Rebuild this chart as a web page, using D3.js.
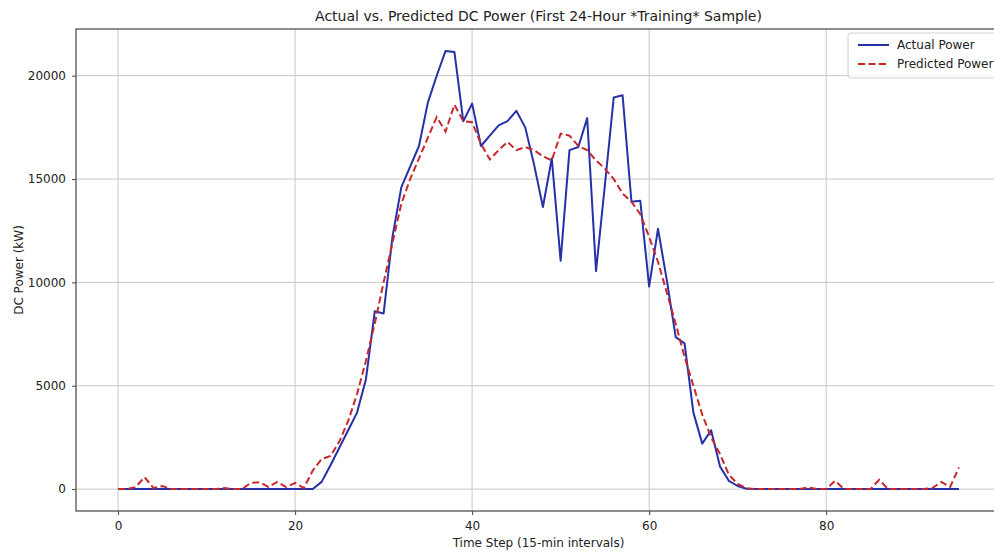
<!DOCTYPE html>
<html>
<head>
<meta charset="utf-8">
<script src="https://cdn.jsdelivr.net/npm/d3@7"></script>
<style>
  body { margin: 0; background: #fff; }
  text { font-family: "DejaVu Sans", sans-serif; fill: #222; }
</style>
</head>
<body>
<div id="chart-area"></div>
<script>
// data (96 fifteen-minute steps)
var actualPower = [
    0, 0, 0, 0, 0, 0, 0, 0, 0, 0, 0, 0, 0, 0, 0, 0, 0, 0, 0, 0, 0, 0, 0,
    350, 1150, 2000, 2850, 3700, 5300, 8600, 8500, 12200, 14600, 15600, 16600,
    18700, 20000, 21200, 21150, 17800, 18650, 16600, 17100, 17600, 17800, 18300,
    17500, 15700, 13650, 16000, 11050, 16400, 16550, 17950, 10550, 14700, 18950,
    19050, 13900, 13950, 9800, 12600, 10100, 7350, 7050, 3700, 2200, 2850, 1100,
    400, 150, 20,
    0, 0, 0, 0, 0, 0, 0, 0, 0, 0, 0, 0, 0, 0, 0, 0, 0, 0, 0, 0, 0, 0, 0, 0
];
var predictedPower = [
    0, 0, 100, 580, 50, 150, 0, 0, 0, 0, 0, 0, 50, 0, 0, 300, 330, 100, 350, 100,
    300, 50, 900, 1450, 1600, 2300, 3300, 4600, 6200, 8000, 10000, 11900, 13800,
    15000, 16000, 17000, 18000, 17300, 18600, 17800, 17750, 16700, 15950, 16400,
    16800, 16400, 16550, 16400, 16100, 15900, 17200, 17100, 16600, 16400, 15900,
    15500, 15000, 14300, 13900, 13300, 12200, 11000, 9500, 8000, 6400, 5000, 3600,
    2500, 1700, 700, 250, 50, 0, 0, 0, 0, 0, 0, 80, 0, 0, 400, 0, 0, 0, 0, 450,
    0, 0, 0, 0, 0, 50, 350, 100, 1050
];
var steps = actualPower.map((d, i) => i);
var xTicks = [0, 20, 40, 60, 80];
var yTicks = [0, 5000, 10000, 15000, 20000];
var seriesNames = ["Actual Power", "Predicted Power"];

var W = 994, H = 554;
var svg = d3.select("#chart-area").append("svg")
    .attr("width", W)
    .attr("height", H);

// matplotlib style 5% margins
var x = d3.scaleLinear().domain([-4.75, 99.75]).range([76, 1001]);
var y = d3.scaleLinear().domain([-1060, 22260]).range([511, 29]);

var plotLeft = x.range()[0], plotRight = x.range()[1];
var plotTop = y.range()[1], plotBottom = y.range()[0];

// grid
svg.append("g").selectAll("line").data(xTicks).enter().append("line")
    .attr("x1", d => x(d)).attr("x2", d => x(d))
    .attr("y1", plotTop).attr("y2", plotBottom)
    .attr("stroke", "#c8c8c8").attr("stroke-width", 1);
svg.append("g").selectAll("line").data(yTicks).enter().append("line")
    .attr("x1", plotLeft).attr("x2", plotRight)
    .attr("y1", d => y(d)).attr("y2", d => y(d))
    .attr("stroke", "#c8c8c8").attr("stroke-width", 1);

// lines
var line = d3.line().x((d, i) => x(steps[i])).y(d => y(d));
svg.append("path").datum(actualPower)
    .attr("d", line)
    .attr("fill", "none")
    .attr("stroke", "#2630a8")
    .attr("stroke-width", 2)
    .attr("stroke-linejoin", "round");
svg.append("path").datum(predictedPower)
    .attr("d", line)
    .attr("fill", "none")
    .attr("stroke", "#c8282c")
    .attr("stroke-width", 2)
    .attr("stroke-dasharray", "7,3.5");

// axes
var xAxis = svg.append("g")
    .attr("transform", `translate(0,${plotBottom})`)
    .call(d3.axisBottom(x).tickValues(xTicks).tickSize(4).tickPadding(6));
var yAxis = svg.append("g")
    .attr("transform", `translate(${plotLeft},0)`)
    .call(d3.axisLeft(y).tickValues(yTicks).tickSize(4).tickPadding(6).tickFormat(d3.format("d")));
[xAxis, yAxis].forEach(a => {
    a.select(".domain").remove();
    a.selectAll("line").attr("stroke", "#444");
    a.selectAll("text").attr("font-size", "12px").attr("fill", "#333")
        .attr("font-family", "DejaVu Sans, sans-serif");
});

// frame
svg.append("rect")
    .attr("x", plotLeft).attr("y", plotTop)
    .attr("width", plotRight - plotLeft).attr("height", plotBottom - plotTop)
    .attr("fill", "none").attr("stroke", "#444").attr("stroke-width", 1.2);

// titles
svg.append("text")
    .attr("x", (plotLeft + plotRight) / 2).attr("y", 21)
    .attr("text-anchor", "middle").attr("font-size", "14px")
    .text("Actual vs. Predicted DC Power (First 24-Hour *Training* Sample)");
svg.append("text")
    .attr("x", (plotLeft + plotRight) / 2).attr("y", 547)
    .attr("text-anchor", "middle").attr("font-size", "12px")
    .text("Time Step (15-min intervals)");
svg.append("text")
    .attr("transform", "translate(23," + ((plotTop + plotBottom) / 2) + ") rotate(-90)")
    .attr("text-anchor", "middle").attr("font-size", "12px")
    .text("DC Power (kW)");

// legend
var legend = svg.append("g");
legend.append("rect")
    .attr("x", 848).attr("y", 33).attr("width", 160).attr("height", 45)
    .attr("rx", 3).attr("fill", "#fff").attr("fill-opacity", 0.8)
    .attr("stroke", "#d0d0d0");
var legendColors = ["#2630a8", "#c8282c"];
var legendDash = [null, "7,3.5"];
seriesNames.forEach((name, i) => {
    var ly = 45 + i * 19;
    legend.append("line")
        .attr("x1", 858).attr("x2", 889).attr("y1", ly).attr("y2", ly)
        .attr("stroke", legendColors[i]).attr("stroke-width", 2)
        .attr("stroke-dasharray", legendDash[i]);
    legend.append("text")
        .attr("x", 897).attr("y", ly + 4).attr("font-size", "12px")
        .text(name);
});
</script>
</body>
</html>
